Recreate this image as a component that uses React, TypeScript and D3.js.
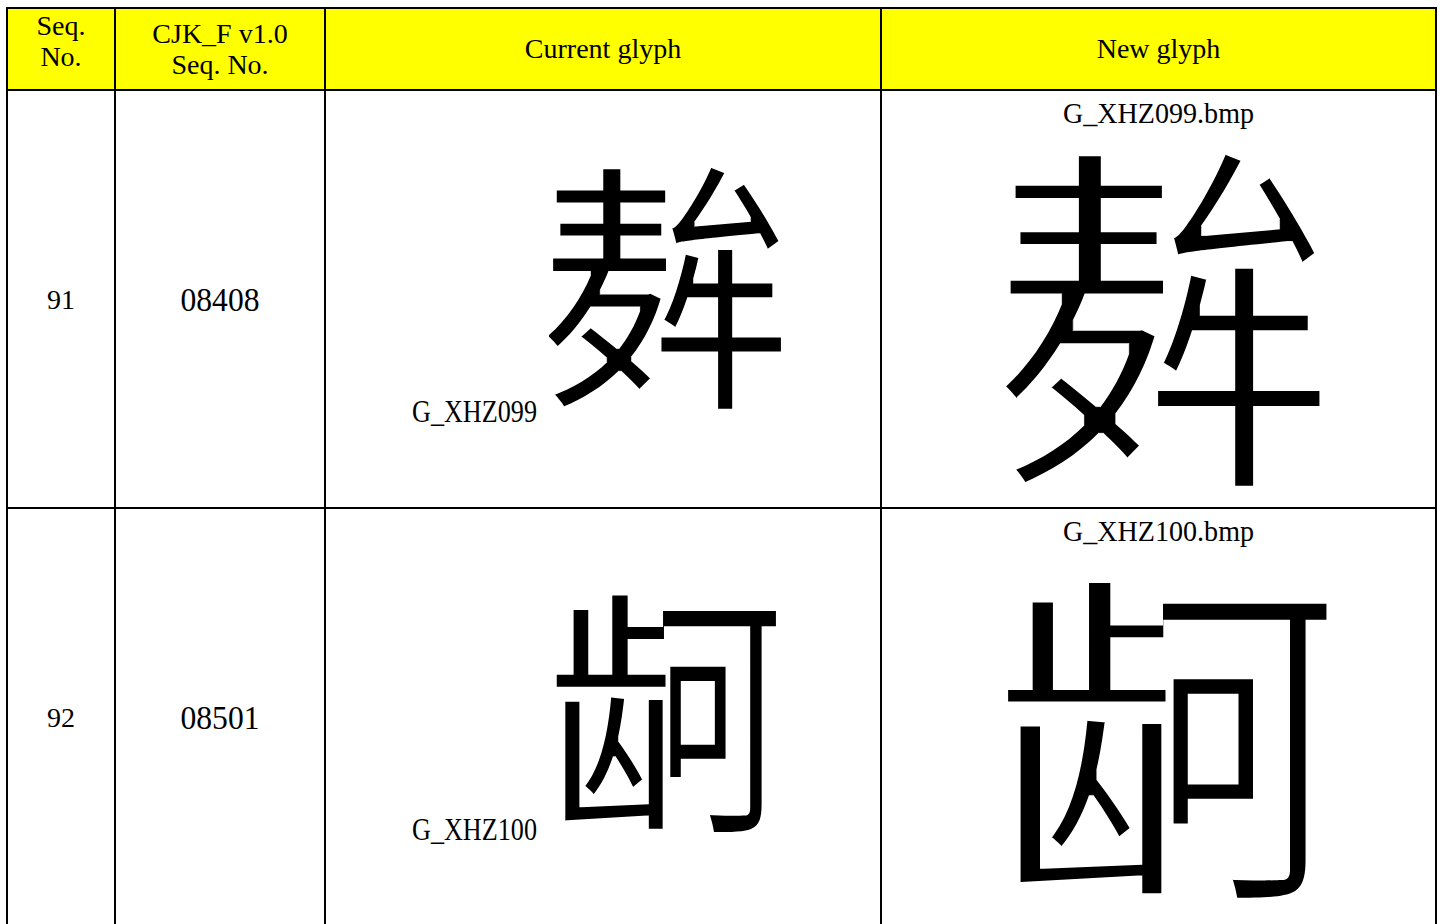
import React from "react";
import * as d3 from "d3";

// ---- data ----
const headerLines: string[][] = [["Seq.", "No."], ["CJK_F v1.0", "Seq. No."], ["Current glyph"], ["New glyph"]];
const seqNos = ["91", "92"];
const cjkSeqNos = ["08408", "08501"];
const glyphIds = ["G_XHZ099", "G_XHZ100"];
// each ideograph composed of a left and right component, taken from host characters
const leftHosts = ["麸", "龄"];
const rightHosts = ["眸", "河"];

// ---- layout ----
const colWidths = [108, 210, 556, 555];
const rowHeights = [82, 418, 418];
const X0 = 7;
const Y0 = 8;
const colEdges = [X0, ...Array.from(d3.cumsum(colWidths)).map((v) => X0 + v)];
const rowEdges = [Y0, ...Array.from(d3.cumsum(rowHeights)).map((v) => Y0 + v)];
const headerShift = [-8, 0, 0, 0];

const serif = "'Liberation Serif', 'Times New Roman', serif";
const cjk = "'Noto Sans CJK SC', sans-serif";

type Part = { host: string; em: [number, number]; span: [number, number]; notch?: [number, number] };

function Glyph({ id, box, parts, thin }: { id: string; box: [number, number, number, number]; parts: Part[]; thin: string }) {
  const [x0, y0, x1, y1] = box;
  const S = (y1 - y0) / 0.9;
  const baseline = y1 - 0.07 * S;
  const w = x1 - x0;
  const fid = `${id}-thin`;
  return (
    <g>
      <filter id={fid} x="-5%" y="-5%" width="110%" height="110%">
        <feMorphology operator="erode" radius={thin} />
      </filter>
      <g filter={`url(#${fid})`}>
        {parts.map((p, i) => {
          const tx0 = x0 + p.span[0] * w;
          const tx1 = x0 + p.span[1] * w;
          const sx = (tx1 - tx0) / ((p.em[1] - p.em[0]) * S);
          const cid = `${id}-clip-${i}`;
          const L = p.em[0] * S;
          const R = p.em[1] * S;
          const T = baseline - S;
          const B = baseline + 0.3 * S;
          let d = `M${L},${T}H${R}V${B}H${L}Z`;
          if (p.notch) {
            const ny = baseline + p.notch[0] * S;
            const nx = p.notch[1] * S;
            d = `M${L},${T}H${R}V${ny}H${nx}V${B}H${L}Z`;
          }
          return (
            <g key={i} transform={`translate(${tx0 - p.em[0] * S * sx},0) scale(${sx},1)`}>
              <clipPath id={cid} clipPathUnits="userSpaceOnUse">
                <path d={d} />
              </clipPath>
              <text x={0} y={baseline} fontFamily={cjk} fontSize={S} clipPath={`url(#${cid})`} fill="#000">
                {p.host}
              </text>
            </g>
          );
        })}
      </g>
    </g>
  );
}

const currentBoxes: [number, number, number, number][] = [
  [548, 170, 786, 408],
  [555, 595, 778, 832],
];
const newBoxes: [number, number, number, number][] = [
  [1003, 155, 1327, 487],
  [1005, 580, 1330, 900],
];
const leftEm: [number, number][] = [[0.04, 0.47], [0.04, 0.47]];
const leftNotch: ([number, number] | undefined)[] = [[-0.03, 0.41], undefined];
const rightEm: [number, number][] = [[0.36, 0.97], [0.33, 0.97]];
const leftSpan: [number, number][] = [[0, 0.5], [0, 0.5]];
const rightSpan: [number, number][] = [[0.45, 1], [0.48, 1]];

export default function App() {
  const colCenter = (i: number) => (colEdges[i] + colEdges[i + 1]) / 2;
  return (
    <svg width={1448} height={924} style={{ position: "absolute", left: 0, top: 0, background: "#fff" }}>
      <rect x={0} y={0} width={1448} height={924} fill="#fff" />
      {/* header fill */}
      <rect x={colEdges[0]} y={rowEdges[0]} width={colEdges[4] - colEdges[0]} height={rowEdges[1] - rowEdges[0]} fill="#FFFF00" />
      {/* header text */}
      {headerLines.map((lines, i) => {
        const cy = (rowEdges[0] + rowEdges[1]) / 2 + headerShift[i];
        const lh = 31;
        return (
          <text key={i} fontFamily={serif} fontSize={28} textAnchor="middle" fill="#000">
            {lines.map((l, j) => (
              <tspan key={j} x={colCenter(i)} y={cy + (j - (lines.length - 1) / 2) * lh + 9}>
                {l}
              </tspan>
            ))}
          </text>
        );
      })}
      {/* body rows */}
      {seqNos.map((s, r) => {
        const top = rowEdges[r + 1];
        const bot = rowEdges[r + 2];
        const cy = (top + bot) / 2;
        const parts: Part[] = [
          { host: leftHosts[r], em: leftEm[r], span: leftSpan[r], notch: leftNotch[r] },
          { host: rightHosts[r], em: rightEm[r], span: rightSpan[r] },
        ];
        return (
          <g key={r}>
            <text x={colCenter(0)} y={cy + 10} fontFamily={serif} fontSize={28} textAnchor="middle">
              {s}
            </text>
            <text x={colCenter(1)} y={cy + 12} fontFamily={serif} fontSize={33} textAnchor="middle" textLength={79} lengthAdjust="spacingAndGlyphs">
              {cjkSeqNos[r]}
            </text>
            <text x={412} y={top + 332} fontFamily={serif} fontSize={31} textLength={125} lengthAdjust="spacingAndGlyphs">
              {glyphIds[r]}
            </text>
            <text x={colCenter(3)} y={top + 33} fontFamily={serif} fontSize={30} textAnchor="middle" textLength={191} lengthAdjust="spacingAndGlyphs">
              {glyphIds[r] + ".bmp"}
            </text>
            <Glyph id={`cur${r}`} box={currentBoxes[r]} thin="1 1.5" parts={parts} />
            <Glyph id={`new${r}`} box={newBoxes[r]} thin="2 5" parts={parts} />
          </g>
        );
      })}
      {/* grid lines */}
      {rowEdges.map((y, i) => (
        <line key={`h${i}`} x1={colEdges[0] - 1} x2={colEdges[4] + 1} y1={y} y2={y} stroke="#000" strokeWidth={2} />
      ))}
      {colEdges.map((x, i) => (
        <line key={`v${i}`} x1={x} x2={x} y1={rowEdges[0]} y2={rowEdges[3]} stroke="#000" strokeWidth={2} />
      ))}
    </svg>
  );
}
